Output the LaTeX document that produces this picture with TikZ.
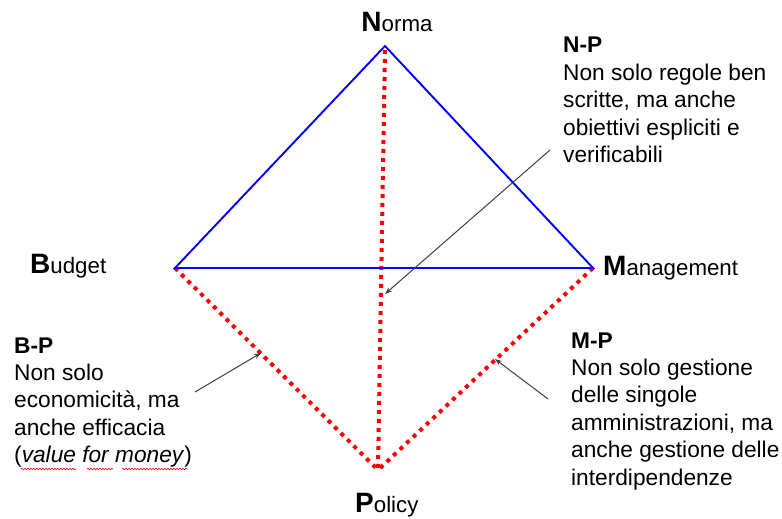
\documentclass[tikz,border=0pt]{standalone}
\usepackage{fontspec}
\setmainfont{Liberation Sans}
\usetikzlibrary{arrows.meta,decorations.pathmorphing}
\newcommand{\bodyfont}{\fontsize{22.7}{27.4}\selectfont}
\newcommand{\bigfirst}[1]{{\fontsize{28}{30}\selectfont\bfseries #1}}
\begin{document}
\begin{tikzpicture}[x=1pt,y=-1pt,
  edgeblue/.style={draw=blue, line width=1.9pt},
  edgered/.style={draw=red, line width=4pt, dash pattern=on 4pt off 5pt},
  pointer/.style={draw=black!75, line width=1pt, -{Stealth[length=7pt,width=5pt]}},
  vertexlabel/.style={anchor=base, inner sep=0pt, font=\fontsize{22.3}{26}\selectfont},
  note/.style={anchor=base west, inner sep=0pt, font=\bodyfont},
  squiggle/.style={draw=red, line width=0.6pt, decorate, decoration={snake, amplitude=0.8pt, segment length=3pt}}
]
\useasboundingbox (0,0) rectangle (782,519);
\fill[white] (0,0) rectangle (782,519);

\coordinate (N) at (385,46);
\coordinate (Ntop) at (385,50);
\coordinate (B) at (175,268);
\coordinate (M) at (593,268);
\coordinate (P) at (378,470);

% red dotted lines
\draw[edgered] (Ntop) -- (P);
\draw[edgered] (B) -- (P);
\draw[edgered] (M) -- (P);

% blue triangle
\draw[edgeblue, line join=miter] (B) -- (N) -- (M) -- cycle;

% vertex labels
\node[vertexlabel] (lN) at (397,32) {\bigfirst{N}orma};
\node[vertexlabel, anchor=base west] (lB) at (30,273) {\bigfirst{B}udget};
\node[vertexlabel, anchor=base west] (lM) at (603,275) {\bigfirst{M}anagement};
\node[vertexlabel, anchor=base west] (lP) at (355,512) {\bigfirst{P}olicy};

% notes
\node[note] (nNP) at (563,53) {\begin{tabular}[t]{@{}l@{}}\textbf{N-P}\\Non solo regole ben\\scritte, ma anche\\obiettivi espliciti e\\verificabili\end{tabular}};
\node[note] (nBP) at (14,353) {\begin{tabular}[t]{@{}l@{}}\textbf{B-P}\\Non solo\\economicità, ma\\anche efficacia\\(\textit{value for money})\end{tabular}};
\node[note] (nMP) at (571,348) {\begin{tabular}[t]{@{}l@{}}\textbf{M-P}\\Non solo gestione\\delle singole\\amministrazioni, ma\\anche gestione delle\\interdipendenze\end{tabular}};

% spell-check squiggles
\draw[squiggle] (21,469) -- (76,469);
\draw[squiggle] (87,469) -- (113,469);
\draw[squiggle] (122,469) -- (188,469);

% pointers
\coordinate (aNPs) at (550,150);
\coordinate (aNPe) at (385,294);
\coordinate (aBPs) at (195,392);
\coordinate (aBPe) at (261,353);
\coordinate (aMPs) at (548,399);
\coordinate (aMPe) at (495,359);
\draw[pointer] (aNPs) -- (aNPe);
\draw[pointer] (aBPs) -- (aBPe);
\draw[pointer] (aMPs) -- (aMPe);
\end{tikzpicture}
\end{document}
